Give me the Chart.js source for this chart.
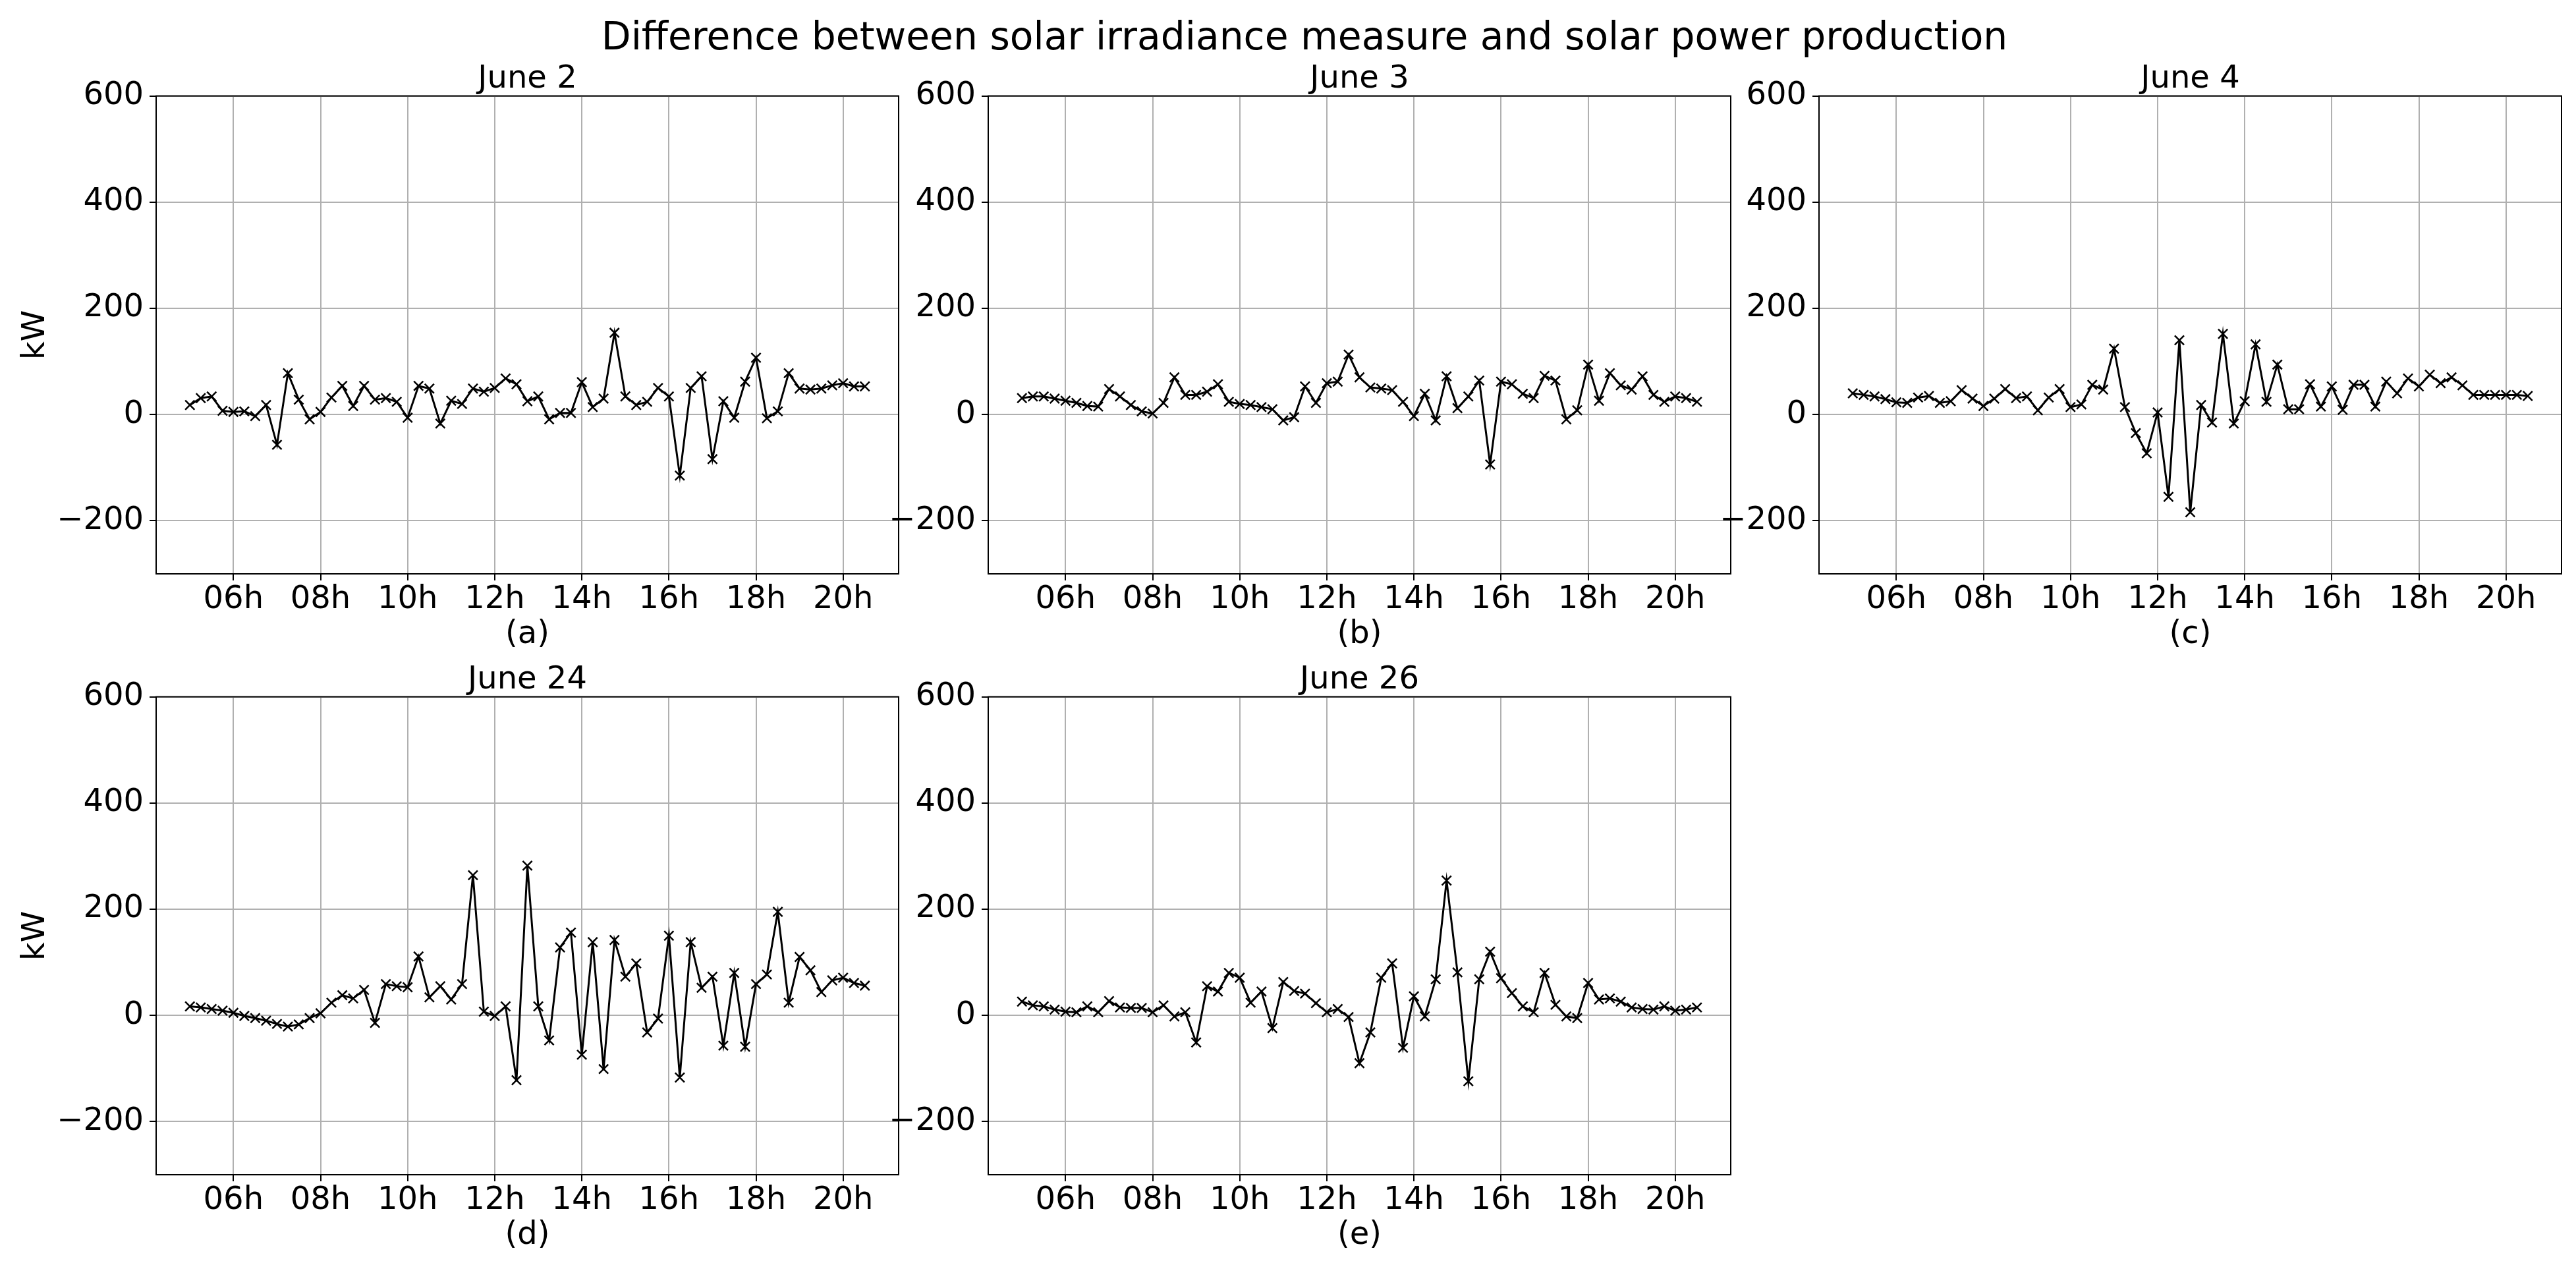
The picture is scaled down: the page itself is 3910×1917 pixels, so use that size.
<!DOCTYPE html>
<html>
<head>
<meta charset="utf-8">
<title>Difference between solar irradiance measure and solar power production</title>
<script src="https://cdn.jsdelivr.net/npm/chart.js@4.4.0/dist/chart.umd.min.js"></script>
<style>
	html, body { margin: 0; padding: 0; background: #fff; overflow: hidden; }
	body { width: 3910px; height: 1917px; position: relative; font-family: 'DejaVu Sans', sans-serif; }
	#suptitle { position: absolute; top: 26px; left: 0; width: 3960px; text-align: center; font-size: 58.3px; line-height: 1; color: #000; white-space: nowrap; }
	.panel { position: absolute; width: 1380px; height: 920px; }
</style>
</head>
<body>
<div id="suptitle">Difference between solar irradiance measure and solar power production</div>
<div class="panel" style="left:0px; top:80px;"><canvas id="june2"></canvas></div>
<div class="panel" style="left:1263px; top:80px;"><canvas id="june3"></canvas></div>
<div class="panel" style="left:2524px; top:80px;"><canvas id="june4"></canvas></div>
<div class="panel" style="left:0px; top:992px;"><canvas id="june24"></canvas></div>
<div class="panel" style="left:1263px; top:992px;"><canvas id="june26"></canvas></div>
<script>
// Sampling times (15 min steps)
const times = ['05:00','05:15','05:30','05:45','06:00','06:15','06:30','06:45',
	'07:00','07:15','07:30','07:45','08:00','08:15','08:30','08:45',
	'09:00','09:15','09:30','09:45','10:00','10:15','10:30','10:45',
	'11:00','11:15','11:30','11:45','12:00','12:15','12:30','12:45',
	'13:00','13:15','13:30','13:45','14:00','14:15','14:30','14:45',
	'15:00','15:15','15:30','15:45','16:00','16:15','16:30','16:45',
	'17:00','17:15','17:30','17:45','18:00','18:15','18:30','18:45',
	'19:00','19:15','19:30','19:45','20:00','20:15','20:30'];

// Difference in kW, one array per day
const june2 = [18,31,34,7,5,6,-3,18,-57,78,28,-9,5,32,54,16,54,28,31,24,-6,54,49,-17,26,20,49,43,50,68,57,25,
	34,-9,3,3,61,14,30,154,34,18,24,50,34,-115,50,72,-84,25,-6,62,107,-7,6,78,49,47,49,55,59,53,53];
const june3 = [31,34,34,30,26,22,16,15,48,34,18,6,2,22,70,37,37,43,57,24,20,18,14,10,-11,-5,53,22,59,62,113,70,
	51,49,46,24,-3,39,-11,72,12,34,64,-94,62,57,39,31,73,64,-9,8,94,26,78,55,47,72,37,24,34,31,24];
const june4 = [40,37,34,29,23,22,32,35,22,25,46,30,16,30,48,31,34,8,32,48,14,19,56,47,124,14,-35,-73,4,-155,140,-184,
	18,-15,152,-17,25,132,24,94,10,10,57,15,53,9,56,56,15,62,40,68,53,75,59,70,55,37,37,37,37,37,35];
const june24 = [17,15,12,9,5,-1,-5,-10,-16,-21,-17,-5,4,24,38,32,48,-14,59,55,53,111,34,55,30,59,264,7,-1,17,-122,282,
	17,-47,128,156,-74,138,-101,142,73,98,-32,-6,150,-117,138,52,73,-57,80,-59,59,77,195,24,110,85,44,66,71,61,56];
const june26 = [26,19,17,11,7,6,17,6,27,15,14,14,6,19,-2,6,-51,55,45,80,71,24,45,-24,63,46,41,23,6,12,-3,-90,
	-32,71,98,-61,36,-2,68,254,81,-124,68,120,70,42,17,6,80,20,-2,-5,61,30,32,26,15,12,11,17,9,11,15];

// Axis ticks
const hourTicks = [6, 8, 10, 12, 14, 16, 18, 20];
const kwTicks = [-200, 0, 200, 400, 600];

// time string -> decimal hours
const hours = times.map((t) => {
	let parts = t.split(':');
	return parseInt(parts[0]) + parseInt(parts[1]) / 60;
});

Chart.defaults.font.family = "'DejaVu Sans', sans-serif";
Chart.defaults.font.size = 48;
Chart.defaults.color = '#000';

// draws the four spines round the plot area
const frame = {
	id: 'frame',
	afterDatasetsDraw(chart) {
		const ctx = chart.ctx,
			a = chart.chartArea;
		ctx.save();
		ctx.strokeStyle = '#000';
		ctx.lineWidth = 2;
		ctx.strokeRect(a.left, a.top, a.right - a.left, a.bottom - a.top);
		ctx.restore();
	}
};

const gridStyle = { color: '#b0b0b0', lineWidth: 2, tickColor: '#000', tickLength: 10, tickWidth: 2 };

function makePanel(id, title, letter, values, showKw) {
	const pts = hours.map((h, i) => ({ x: h, y: values[i] }));
	new Chart(document.getElementById(id), {
		type: 'line',
		data: {
			datasets: [{
				data: pts,
				borderColor: '#000',
				borderWidth: 3,
				tension: 0,
				fill: false,
				pointStyle: 'crossRot',
				pointRadius: 10,
				pointBorderWidth: 2.5,
				pointBorderColor: '#000',
				pointBackgroundColor: '#000'
			}]
		},
		options: {
			responsive: true,
			maintainAspectRatio: false,
			animation: false,
			devicePixelRatio: 1,
			layout: { padding: { left: 0, right: 16, top: 0, bottom: 0 } },
			plugins: {
				legend: { display: false },
				tooltip: { enabled: false },
				title: {
					display: true,
					text: title,
					fullSize: false,
					color: '#000',
					font: { size: 48, weight: 'normal', lineHeight: 1 },
					padding: { top: 17, bottom: 0.6 }
				}
			},
			scales: {
				x: {
					type: 'linear',
					min: 4.225,
					max: 21.275,
					afterBuildTicks: (s) => { s.ticks = hourTicks.map((v) => ({ value: v })); },
					afterFit: (s) => { s.height = 129; },
					ticks: {
						padding: 1,
						autoSkip: false,
						maxRotation: 0,
						callback: (v) => `${v < 10 ? '0' : ''}${v}h`
					},
					grid: gridStyle,
					border: { display: false },
					title: { display: true, text: letter, font: { size: 48 }, padding: { top: 0, bottom: 8 } }
				},
				y: {
					min: -300,
					max: 600,
					afterBuildTicks: (s) => { s.ticks = kwTicks.map((v) => ({ value: v })); },
					afterFit: (s) => { s.width = 237; },
					ticks: {
						padding: 9,
						callback: (v) => String(v).replace('-', '\u2212')
					},
					grid: gridStyle,
					border: { display: false },
					title: { display: showKw, text: 'kW', font: { size: 48 }, padding: { top: 26, bottom: 0 } }
				}
			}
		},
		plugins: [frame]
	});
}

makePanel('june2', 'June 2', '(a)', june2, true);
makePanel('june3', 'June 3', '(b)', june3, false);
makePanel('june4', 'June 4', '(c)', june4, false);
makePanel('june24', 'June 24', '(d)', june24, true);
makePanel('june26', 'June 26', '(e)', june26, false);
</script>
</body>
</html>
